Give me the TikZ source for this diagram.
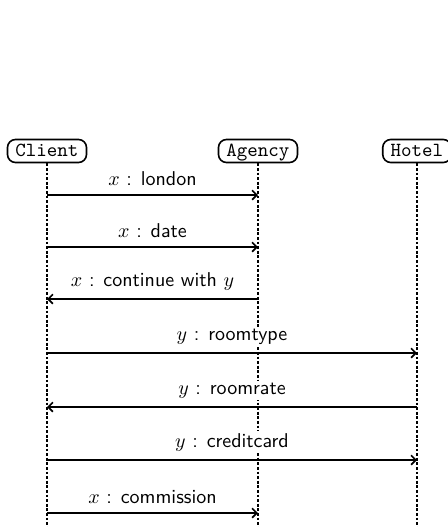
\documentclass[tikz,border=0pt]{standalone}
\usetikzlibrary{arrows.meta}
\begin{document}
\begin{tikzpicture}[x=0.5pt,y=-0.5pt,
  actor/.style={draw,rounded corners=4pt,font=\ttfamily,inner xsep=4pt,inner ysep=2pt,text depth=0.2ex,minimum height=11.5pt,line width=0.8pt},
  life/.style={line width=0.8pt,dash pattern=on 1.4pt off 0.9pt},
  msg/.style={-{Straight Barb[length=2.4pt,width=4.8pt]},line width=0.8pt},
  lbl/.style={fill=white,font=\sffamily,inner sep=1pt}]
\useasboundingbox (0,0) rectangle (447,527);
% participants
\node[actor] (client) at (47,151) {Client};
\node[actor] (agency) at (258,151) {Agency};
\node[actor] (hotel) at (417,151) {Hotel};
% lifeline ends
\coordinate (cend) at (47,530);
\coordinate (aend) at (258,530);
\coordinate (hend) at (417,530);
\draw[life] (client) -- (cend);
\draw[life] (agency) -- (aend);
\draw[life] (hotel) -- (hend);
% message anchor points on the lifelines
\foreach \n/\y in {1/195,2/247,3/299,4/353,5/407,6/460,7/513}{
  \coordinate (c\n) at (47,\y);
  \coordinate (a\n) at (258,\y);
  \coordinate (h\n) at (417,\y);
}
% messages
\draw[msg] (c1) -- node[lbl,above=3pt] {$x$ : london} (a1);
\draw[msg] (c2) -- node[lbl,above=3pt] {$x$ : date} (a2);
\draw[msg] (a3) -- node[lbl,above=3pt] {$x$ : continue with $y$} (c3);
\draw[msg] (c4) -- node[lbl,above=3pt] {$y$ : roomtype} (h4);
\draw[msg] (h5) -- node[lbl,above=3pt] {$y$ : roomrate} (c5);
\draw[msg] (c6) -- node[lbl,above=3pt] {$y$ : creditcard} (h6);
\draw[msg] (c7) -- node[lbl,above=3pt] {$x$ : commission} (a7);
\end{tikzpicture}
\end{document}
